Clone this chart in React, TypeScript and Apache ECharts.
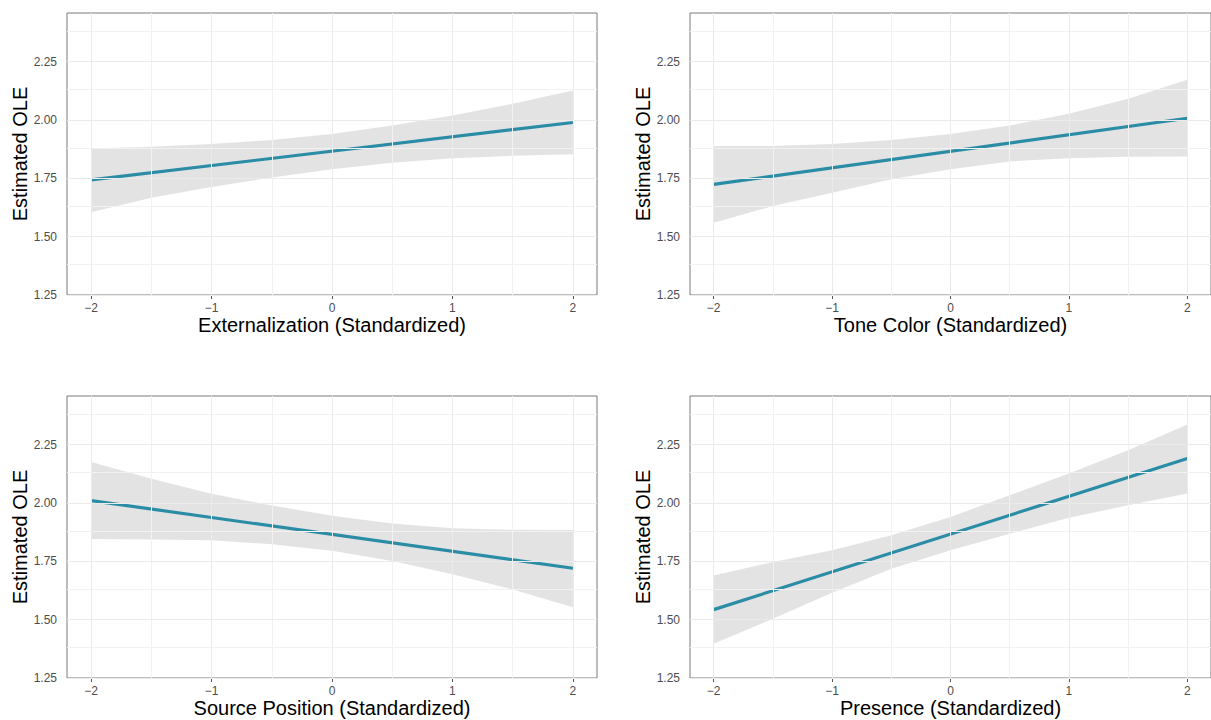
import React, { useEffect, useRef } from "react";
import * as echarts from "echarts";

// ---- data ----
const bandX = [-2, -1.5, -1, -0.5, 0, 0.5, 1, 1.5, 2];
const fitX = [-2, 2];

const titles = [
  "Externalization (Standardized)",
  "Tone Color (Standardized)",
  "Source Position (Standardized)",
  "Presence (Standardized)",
];

const fitExternalization = [1.743, 1.989];
const upperExternalization = [1.878, 1.885, 1.897, 1.914, 1.94, 1.976, 2.019, 2.069, 2.126];
const lowerExternalization = [1.605, 1.667, 1.713, 1.753, 1.789, 1.817, 1.836, 1.846, 1.853];

const fitToneColor = [1.724, 2.007];
const upperToneColor = [1.888, 1.888, 1.897, 1.914, 1.94, 1.976, 2.026, 2.091, 2.172];
const lowerToneColor = [1.559, 1.631, 1.688, 1.746, 1.789, 1.822, 1.836, 1.842, 1.843];

const fitSourcePosition = [2.01, 1.72];
const upperSourcePosition = [2.175, 2.103, 2.039, 1.989, 1.945, 1.912, 1.892, 1.885, 1.884];
const lowerSourcePosition = [1.845, 1.843, 1.84, 1.823, 1.795, 1.751, 1.694, 1.629, 1.553];

const fitPresence = [1.543, 2.19];
const upperPresence = [1.689, 1.747, 1.797, 1.861, 1.94, 2.033, 2.126, 2.226, 2.336];
const lowerPresence = [1.397, 1.504, 1.615, 1.718, 1.797, 1.868, 1.936, 1.99, 2.04];

const xTickValues = [-2, -1, 0, 1, 2];
const xMinorValues = [-1.5, -0.5, 0.5, 1.5];
const yTickValues = [1.25, 1.5, 1.75, 2.0, 2.25];
const yMinorValues = [1.375, 1.625, 1.875, 2.125, 2.375];

const X_MIN = -2.2;
const X_MAX = 2.2;
const Y_MIN = 1.25;
const Y_MAX = 2.458;

const FONT = "'Liberation Sans', Arial, Helvetica, sans-serif";
const LINE_COLOR = "#2b8ca6";
const BAND_FILL = "rgba(153,153,153,0.27)";

const panels = [
  { title: titles[0], fit: fitExternalization, upper: upperExternalization, lower: lowerExternalization },
  { title: titles[1], fit: fitToneColor, upper: upperToneColor, lower: lowerToneColor },
  { title: titles[2], fit: fitSourcePosition, upper: upperSourcePosition, lower: lowerSourcePosition },
  { title: titles[3], fit: fitPresence, upper: upperPresence, lower: lowerPresence },
];

const gridPos = [
  { left: 67, top: 13 },
  { left: 690, top: 13 },
  { left: 67, top: 396 },
  { left: 690, top: 396 },
];

const fmtX = (v: number) => (v < 0 ? "\u2212" + Math.abs(v) : String(v));

function buildOption() {
  const grid: any[] = [];
  const xAxis: any[] = [];
  const yAxis: any[] = [];
  const series: any[] = [];

  panels.forEach((p, i) => {
    grid.push({
      left: gridPos[i].left,
      top: gridPos[i].top,
      width: 530,
      height: 282,
      show: true,
      borderColor: "#7a7a7a",
      borderWidth: 1,
      backgroundColor: "#ffffff",
    });
    xAxis.push({
      gridIndex: i,
      type: "value",
      min: X_MIN,
      max: X_MAX,
      name: p.title,
      nameLocation: "middle",
      nameGap: 19,
      nameTextStyle: { fontSize: 20, color: "#000", fontFamily: FONT },
      axisLine: { show: false },
      axisTick: { show: true, customValues: xTickValues, length: 4, lineStyle: { color: "#555", width: 1 } },
      axisLabel: { customValues: xTickValues, formatter: fmtX, color: "#4d4d4d", fontSize: 12, margin: 7, fontFamily: FONT },
      splitLine: { show: false },
    });
    yAxis.push({
      gridIndex: i,
      type: "value",
      min: Y_MIN,
      max: Y_MAX,
      name: "Estimated OLE",
      nameLocation: "middle",
      nameGap: 36,
      nameRotate: 90,
      nameTextStyle: { fontSize: 20, color: "#000", fontFamily: FONT },
      axisLine: { show: false },
      axisTick: { show: true, customValues: yTickValues, length: 4, lineStyle: { color: "#555", width: 1 } },
      axisLabel: {
        customValues: yTickValues,
        formatter: (v: number) => v.toFixed(2),
        color: "#4d4d4d",
        fontSize: 12,
        margin: 10,
        fontFamily: FONT,
      },
      splitLine: { show: false },
    });

    // gridlines (major + minor) via markLine on the axes' scales
    const gl: any[] = [];
    xMinorValues.forEach((v) => gl.push({ xAxis: v, lineStyle: { color: "#f2f2f2", width: 1, type: "solid" } }));
    yMinorValues.forEach((v) => gl.push({ yAxis: v, lineStyle: { color: "#f2f2f2", width: 1, type: "solid" } }));
    xTickValues.forEach((v) => gl.push({ xAxis: v, lineStyle: { color: "#ebebeb", width: 1, type: "solid" } }));
    yTickValues.forEach((v) => gl.push({ yAxis: v, lineStyle: { color: "#ebebeb", width: 1, type: "solid" } }));
    series.push({
      type: "line",
      xAxisIndex: i,
      yAxisIndex: i,
      z: 1,
      silent: true,
      showSymbol: false,
      lineStyle: { opacity: 0 },
      data: fitX.map((x, k) => [x, p.fit[k]]),
      markLine: {
        silent: true,
        symbol: ["none", "none"],
        label: { show: false },
        emphasis: { disabled: true },
        data: gl,
      },
    });

    // confidence ribbon
    series.push({
      type: "custom",
      xAxisIndex: i,
      yAxisIndex: i,
      z: 2,
      silent: true,
      data: [[0, p.fit[0]]],
      renderItem: (_params: any, api: any) => {
        const pts: number[][] = [];
        bandX.forEach((x, k) => pts.push(api.coord([x, p.upper[k]])));
        for (let k = bandX.length - 1; k >= 0; k--) pts.push(api.coord([bandX[k], p.lower[k]]));
        return { type: "polygon", shape: { points: pts }, style: { fill: BAND_FILL, stroke: "none" } };
      },
    });

    // fitted line
    series.push({
      type: "line",
      xAxisIndex: i,
      yAxisIndex: i,
      z: 3,
      silent: true,
      showSymbol: false,
      symbol: "none",
      lineStyle: { color: LINE_COLOR, width: 3.2 },
      data: fitX.map((x, k) => [x, p.fit[k]]),
    });
  });

  return {
    animation: false,
    backgroundColor: "#ffffff",
    textStyle: { fontFamily: FONT },
    grid,
    xAxis,
    yAxis,
    series,
  };
}

export default function App() {
  const ref = useRef<HTMLDivElement>(null);
  useEffect(() => {
    if (!ref.current) return;
    const chart = echarts.init(ref.current, undefined, { renderer: "svg" });
    chart.setOption(buildOption() as any);
    return () => chart.dispose();
  }, []);
  return (
    <div
      ref={ref}
      style={{ position: "absolute", left: 0, top: 0, width: 1211, height: 720 }}
    />
  );
}
